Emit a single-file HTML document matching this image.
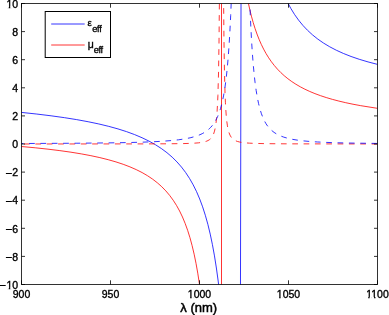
<!DOCTYPE html>
<html><head><meta charset="utf-8"><style>
html,body{margin:0;padding:0;background:#fff;}
svg{display:block;} text{will-change:transform;}
text{font-family:"Liberation Sans",sans-serif;font-size:10.5px;fill:#000;stroke:#000;stroke-width:0.35px;}
</style></head><body>
<svg width="389" height="315" viewBox="0 0 389 315">
<defs><clipPath id="c"><rect x="21.5" y="3.5" width="356.0" height="281.0"/></clipPath></defs>
<rect width="389" height="315" fill="#fff"/>

<g clip-path="url(#c)" fill="none" stroke-width="0.8">
<path d="M21.50,112.42 36.83,114.06 51.07,115.80 64.34,117.65 76.67,119.62 88.14,121.72 98.82,123.96 108.76,126.36 117.99,128.91 126.59,131.65 134.58,134.58 142.02,137.72 148.95,141.08 155.39,144.68 161.38,148.55 166.96,152.70 172.15,157.14 176.98,161.92 181.48,167.05 185.66,172.56 189.55,178.47 193.17,184.81 196.55,191.64 199.69,198.97 202.61,206.83 205.32,215.26 207.86,224.34 210.22,234.12 212.42,244.60 214.48,255.89 216.39,268.00 218.18,281.05 219.85,295.04 M240.45,300 L241.05,-10 M284.11,-5.02 287.35,1.95 290.83,8.45 294.57,14.50 298.58,20.14 302.89,25.39 307.52,30.29 312.49,34.85 317.82,39.11 323.55,43.08 329.70,46.78 336.31,50.23 343.41,53.46 351.04,56.47 359.24,59.29 368.04,61.92 377.50,64.39" stroke="#00f"/>
<path d="M21.50,146.52 35.21,147.79 47.99,149.16 59.89,150.63 70.97,152.20 81.29,153.88 90.90,155.68 99.86,157.62 108.20,159.69 115.97,161.92 123.21,164.31 129.95,166.87 136.23,169.62 142.08,172.56 147.52,175.73 152.60,179.13 157.32,182.77 161.72,186.68 165.82,190.88 169.64,195.39 173.20,200.23 176.51,205.42 179.60,211.00 182.47,216.99 185.14,223.40 187.64,230.29 189.96,237.70 192.12,245.64 194.13,254.16 196.01,263.32 197.76,273.13 199.38,283.69 200.91,295.06 M221.50,300 L221.50,-10 M246.72,-5.02 248.20,2.45 249.77,9.51 251.42,16.18 253.18,22.47 255.03,28.41 256.99,34.04 259.08,39.36 261.27,44.37 263.61,49.11 266.07,53.58 268.68,57.81 271.45,61.81 274.38,65.59 277.47,69.16 280.76,72.53 284.23,75.72 287.90,78.73 291.79,81.57 295.91,84.26 300.27,86.80 304.89,89.20 309.78,91.47 314.95,93.61 320.42,95.63 326.22,97.55 332.36,99.36 338.86,101.07 345.73,102.69 353.01,104.22 360.71,105.66 377.50,108.33" stroke="#f00"/>
<g>
<path d="M21.50,143.99 143.63,143.90 168.57,143.79 183.90,143.57 189.76,143.39 194.46,143.16 198.28,142.86 201.41,142.47 204.02,141.97 206.20,141.34 208.04,140.56 209.58,139.60 210.41,138.92 211.17,138.14 211.85,137.27 212.49,136.29 213.59,133.98 214.51,131.14 215.31,127.62 215.98,123.35 216.56,118.22 217.07,111.98 217.51,104.43 217.91,95.34 218.55,71.99 219.04,39.93 219.44,-3.00" stroke="#f00" stroke-dasharray="5.7 5.661" stroke-dashoffset="8.862"/>
<path d="M223.57,-2.42 223.96,39.36 224.43,70.20 225.03,93.22 225.40,102.24 225.81,109.77 226.28,116.17 226.81,121.46 227.43,125.87 228.15,129.58 228.99,132.61 229.97,135.10 231.14,137.11 231.80,137.96 232.52,138.72 233.89,139.82 235.50,140.72 237.41,141.45 239.67,142.04 242.35,142.51 245.60,142.88 249.55,143.17 254.40,143.39 267.04,143.68 286.97,143.84 377.50,143.97" stroke="#f00" stroke-dasharray="5.7 5.629" stroke-dashoffset="0.805"/>
<path d="M21.50,143.51 76.86,143.23 115.40,142.80 130.33,142.51 143.02,142.15 153.87,141.72 163.20,141.20 171.42,140.56 178.53,139.80 184.73,138.89 190.13,137.82 194.88,136.56 199.06,135.09 200.97,134.26 202.76,133.37 204.45,132.41 206.04,131.37 207.68,130.15 209.21,128.84 210.65,127.42 212.00,125.89 213.29,124.24 214.50,122.47 215.64,120.56 216.71,118.51 217.74,116.30 218.70,113.95 219.61,111.42 220.48,108.73 222.08,102.76 223.53,95.94 224.86,88.12 226.06,79.28 227.15,69.28 228.15,58.05 229.07,45.39 229.90,31.31 230.68,15.52 231.40,-2.21" stroke="#00f" stroke-dasharray="5.7 5.661" stroke-dashoffset="3.761"/>
<path d="M249.62,-2.03 250.25,14.06 250.91,28.47 251.62,41.62 252.39,53.62 253.22,64.32 254.12,73.99 255.09,82.63 256.15,90.40 257.30,97.31 258.55,103.46 259.92,108.92 261.43,113.76 263.08,118.03 264.91,121.79 265.89,123.50 266.93,125.09 268.02,126.58 269.18,127.98 271.51,130.34 274.10,132.41 276.97,134.22 280.19,135.78 283.77,137.14 287.81,138.30 292.37,139.30 297.53,140.16 303.29,140.87 309.85,141.47 317.37,141.97 326.04,142.39 336.03,142.74 347.68,143.02 377.50,143.44" stroke="#00f" stroke-dasharray="5.7 5.659" stroke-dashoffset="11.182"/>
</g>
</g>
<g stroke="#000" stroke-width="0.8" fill="none">
<rect x="21.5" y="3.5" width="356.0" height="281.0"/>
<path d="M21.50,284.5V280.30M21.50,3.5V7.70M110.50,284.5V280.30M110.50,3.5V7.70M199.50,284.5V280.30M199.50,3.5V7.70M288.50,284.5V280.30M288.50,3.5V7.70M377.50,284.5V280.30M377.50,3.5V7.70M21.5,3.50H25.00M377.5,3.50H374.00M21.5,31.60H25.00M377.5,31.60H374.00M21.5,59.70H25.00M377.5,59.70H374.00M21.5,87.80H25.00M377.5,87.80H374.00M21.5,115.90H25.00M377.5,115.90H374.00M21.5,144.00H25.00M377.5,144.00H374.00M21.5,172.10H25.00M377.5,172.10H374.00M21.5,200.20H25.00M377.5,200.20H374.00M21.5,228.30H25.00M377.5,228.30H374.00M21.5,256.40H25.00M377.5,256.40H374.00M21.5,284.50H25.00M377.5,284.50H374.00"/>
</g>
<text x="21.50" y="298" text-anchor="middle">900</text><text x="110.50" y="298" text-anchor="middle">950</text><text x="199.50" y="298" text-anchor="middle">1000</text><text x="288.50" y="298" text-anchor="middle">1050</text><text x="377.50" y="298" text-anchor="middle">1100</text>
<text x="18.1" y="7.70" text-anchor="end">10</text><text x="18.1" y="35.80" text-anchor="end">8</text><text x="18.1" y="63.90" text-anchor="end">6</text><text x="18.1" y="92.00" text-anchor="end">4</text><text x="18.1" y="120.10" text-anchor="end">2</text><text x="18.1" y="148.20" text-anchor="end">0</text><text x="18.1" y="176.30" text-anchor="end">2</text><rect x="5.9" y="173" width="6" height="1" fill="#000"/><text x="18.1" y="204.40" text-anchor="end">4</text><rect x="5.9" y="201" width="6" height="1" fill="#000"/><text x="18.1" y="232.50" text-anchor="end">6</text><rect x="5.9" y="229" width="6" height="1" fill="#000"/><text x="18.1" y="260.60" text-anchor="end">8</text><rect x="5.9" y="257" width="6" height="1" fill="#000"/><text x="18.1" y="288.70" text-anchor="end">10</text><rect x="-0.3" y="285" width="6" height="1" fill="#000"/>
<g fill="#fff"><rect x="187.62" y="296.90" width="2.5" height="2.2"/><rect x="191.67" y="296.90" width="2.05" height="2.2"/><rect x="276.62" y="296.90" width="2.5" height="2.2"/><rect x="280.67" y="296.90" width="2.05" height="2.2"/><rect x="365.62" y="296.90" width="2.5" height="2.2"/><rect x="369.67" y="296.90" width="2.05" height="2.2"/><rect x="371.46" y="296.90" width="2.5" height="2.2"/><rect x="375.51" y="296.90" width="2.05" height="2.2"/><rect x="6.22" y="6.60" width="2.5" height="2.2"/><rect x="10.27" y="6.60" width="2.05" height="2.2"/><rect x="6.22" y="287.60" width="2.5" height="2.2"/><rect x="10.27" y="287.60" width="2.05" height="2.2"/></g>
<text x="198.7" y="312" text-anchor="middle" style="font-size:13px;stroke-width:0.5px">λ (nm)</text>
<rect x="45.2" y="11.5" width="65.3" height="46" fill="#fff" stroke="#000" stroke-width="1"/>
<path d="M51.2,24H84.7" stroke="#00f" stroke-width="0.8"/>
<path d="M51.2,45H84.7" stroke="#f00" stroke-width="0.8"/>
<text x="87.6" y="26" style="font-size:9.5px">ε</text><text x="92.3" y="31.8" style="font-size:9.2px;letter-spacing:-0.3px">eff</text>
<text x="87.7" y="48.2" style="font-size:10.5px">μ</text><text x="93.7" y="52.7" style="font-size:9.2px;letter-spacing:-0.3px">eff</text>
</svg>
</body></html>
